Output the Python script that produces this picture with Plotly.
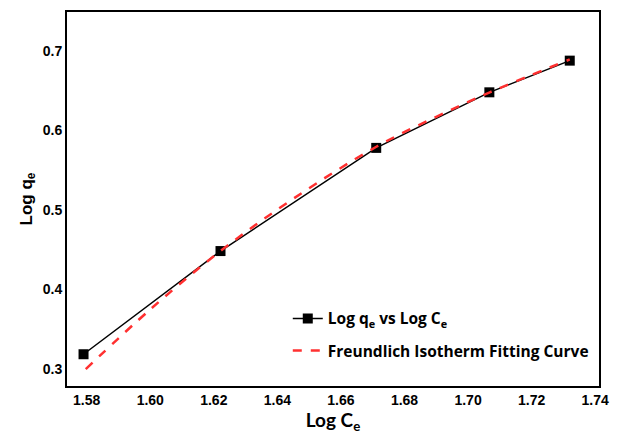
import plotly.graph_objects as go

log_ce = [1.579, 1.6221, 1.6711, 1.7067, 1.7320]
log_qe = [0.3187, 0.4483, 0.5779, 0.6477, 0.6875]

fit_x = [1.5797, 1.60, 1.622, 1.645, 1.671, 1.69, 1.707, 1.732]
fit_y = [0.300, 0.375, 0.448, 0.514, 0.579, 0.617, 0.648, 0.689]

x_ticks = [1.58, 1.60, 1.62, 1.64, 1.66, 1.68, 1.70, 1.72, 1.74]
y_ticks = [0.3, 0.4, 0.5, 0.6, 0.7]

fig = go.Figure()
fig.add_trace(go.Scatter(
    x=log_ce, y=log_qe, mode="lines+markers",
    name="Log q<sub>e</sub> vs Log C<sub>e</sub>", legendgroup="a",
    line=dict(color="black", width=1.5),
    marker=dict(symbol="square", size=10, color="black"),
))
fig.add_trace(go.Scatter(
    x=fit_x, y=fit_y, mode="lines", line_shape="spline",
    name="Freundlich Isotherm Fitting Curve", legendgroup="b",
    line=dict(color="#ff3030", width=2.5, dash="dash"),
))

fig.update_layout(
    width=619, height=440,
    margin=dict(l=67, r=15, t=10, b=54),
    paper_bgcolor="white", plot_bgcolor="white",
    font=dict(family="Liberation Sans, Arial", color="black"),
    legend=dict(
        x=0.415, y=0.225, xanchor="left", yanchor="top",
        bgcolor="rgba(0,0,0,0)",
        font=dict(family="Open Sans", size=15.5, color="black", weight="bold"),
        tracegroupgap=9,
    ),
    xaxis=dict(
        range=[1.5738, 1.7412], tickvals=x_ticks,
        ticktext=[f"{v:.2f}" for v in x_ticks],
        showgrid=False, zeroline=False,
        showline=True, linecolor="black", linewidth=2, mirror=True,
        ticks="", tickfont=dict(size=14, weight="bold"),
        title=dict(text="Log C<sub>e</sub>", font=dict(family="Lato, Open Sans", size=19, weight="bold"), standoff=6),
    ),
    yaxis=dict(
        range=[0.2788, 0.7486], tickvals=y_ticks,
        ticktext=[f"{v:.1f}" for v in y_ticks],
        showgrid=False, zeroline=False,
        showline=True, linecolor="black", linewidth=2, mirror=True,
        ticks="", tickfont=dict(size=14, weight="bold"),
        title=dict(text="Log q<sub>e</sub>", font=dict(size=17, weight="bold"), standoff=6),
    ),
)

fig.write_html("out.html")
